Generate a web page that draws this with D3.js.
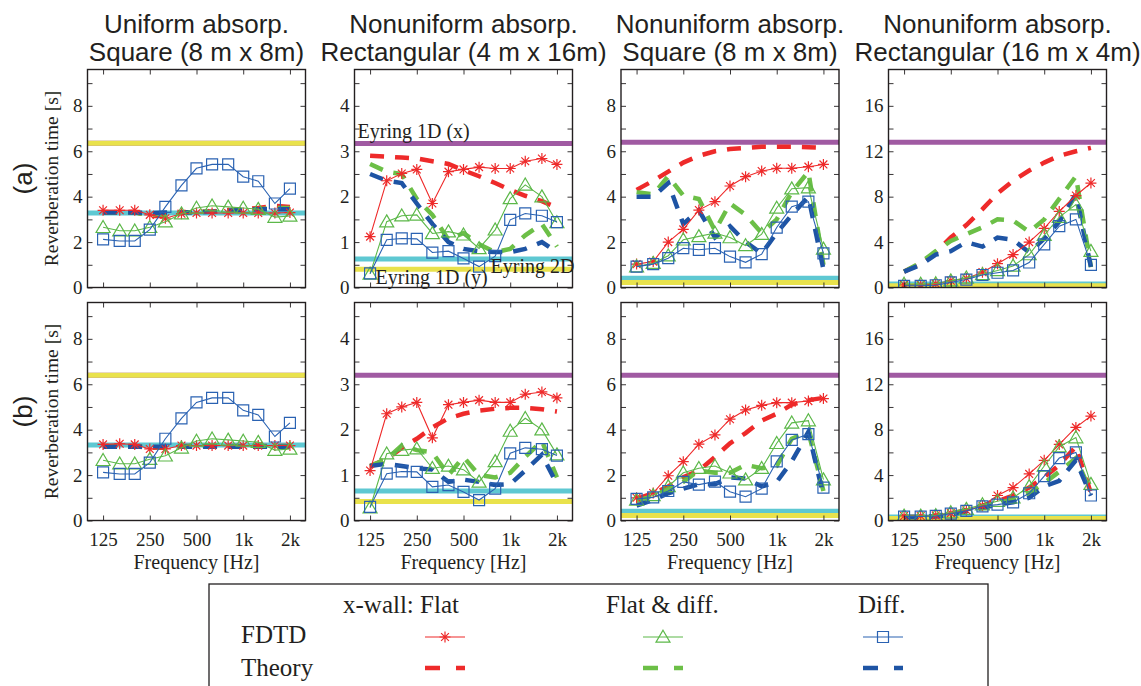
<!DOCTYPE html>
<html>
<head>
<meta charset="utf-8">
<script src="https://cdn.jsdelivr.net/npm/d3@7"></script>
<style>
body { margin: 0; background: #fff; }
text { fill: #231f20; }
</style>
</head>
<body>
<svg id="chart" width="1141" height="686"></svg>
<script>

// 1/3-octave band centres
const freqs = [125, 160, 200, 250, 315, 400, 500, 630, 800, 1000, 1250, 1600, 2000];
const tickFreqs = [125, 250, 500, 1000, 2000];
const tickLabels = ["125", "250", "500", "1k", "2k"];

const titleLine1 = ["Uniform absorp.", "Nonuniform absorp.", "Nonuniform absorp.", "Nonuniform absorp."];
const titleLine2 = ["Square (8 m x 8m)", "Rectangular (4 m x 16m)", "Square (8 m x 8m)", "Rectangular (16 m x 4m)"];
const rowLabels = ["(a)", "(b)"];

const yMax = [9.6, 4.8, 9.6, 19.2];
const yLabelStep = [2, 1, 2, 4];
const yMinorStep = [1, 0.5, 1, 2];

// Eyring reference values, one per panel
const eyringXa = [6.35, 3.17, 6.4, 12.8];
const eyring2Da = [3.28, 0.63, 0.41, 0.3];
const eyringYa = [6.35, 0.4, 0.22, 0.15];
const eyringXb = [6.4, 3.2, 6.4, 12.8];
const eyring2Db = [3.32, 0.65, 0.41, 0.3];
const eyringYb = [6.4, 0.42, 0.22, 0.18];

// FDTD: [flat, flat & diff., diff.]
const fdtdA1 = [
  [3.4, 3.4, 3.4, 3.2, 3.05, 3.25, 3.28, 3.28, 3.28, 3.28, 3.28, 3.28, 3.3],
  [2.65, 2.5, 2.5, 2.65, 2.9, 3.25, 3.5, 3.6, 3.55, 3.5, 3.45, 3.1, 3.15],
  [2.12, 2.05, 2.05, 2.55, 3.55, 4.5, 5.25, 5.42, 5.42, 4.88, 4.68, 3.7, 4.35]
];
const theoryA1 = [
  [3.32, 3.32, 3.32, 3.15, 3.15, 3.3, 3.32, 3.35, 3.4, 3.45, 3.5, 3.6, 3.55],
  [3.3, 3.3, 3.3, 3.2, 3.2, 3.3, 3.32, 3.35, 3.38, 3.42, 3.45, 3.5, 3.5],
  [3.3, 3.3, 3.3, 3.28, 3.3, 3.3, 3.32, 3.34, 3.38, 3.4, 3.45, 3.45, 3.45]
];
const fdtdA2 = [
  [1.12, 2.35, 2.51, 2.6, 1.85, 2.55, 2.6, 2.65, 2.62, 2.62, 2.78, 2.84, 2.71],
  [0.3, 1.45, 1.58, 1.6, 1.19, 1.23, 1.16, 0.86, 1.27, 1.96, 2.26, 2.0, 1.43],
  [0.31, 1.05, 1.08, 1.07, 0.77, 0.8, 0.64, 0.46, 0.69, 1.49, 1.63, 1.58, 1.44]
];
const theoryA2 = [
  [2.9, 2.88, 2.86, 2.84, 2.78, 2.72, 2.58, 2.45, 2.3, 2.15, 2.02, 1.9, 1.76],
  [2.72, 2.55, 2.5, 1.95, 1.6, 1.05, 1.2, 0.95, 0.78, 0.85, 1.15, 1.4, 0.9],
  [2.5, 2.35, 2.3, 1.85, 1.4, 1.0, 0.85, 0.8, 0.78, 0.78, 0.85, 1.0, 0.78]
];
const fdtdA3 = [
  [1.03, 1.14, 2.0, 2.56, 3.41, 3.78, 4.47, 4.88, 5.13, 5.25, 5.25, 5.32, 5.42],
  [0.92, 1.07, 1.4, 2.1, 2.25, 2.4, 2.2, 1.85, 2.35, 3.5, 4.35, 4.4, 1.7],
  [0.92, 1.03, 1.29, 1.73, 1.66, 1.73, 1.36, 1.11, 1.47, 2.64, 3.56, 3.78, 1.5]
];
const theoryA3 = [
  [4.3, 4.7, 5.1, 5.5, 5.8, 6.0, 6.1, 6.15, 6.2, 6.2, 6.2, 6.18, 6.15],
  [4.2, 4.1, 4.9, 4.05, 3.9, 2.5, 3.7, 3.2, 2.4, 3.0, 4.2, 5.1, 1.0],
  [4.0, 4.0, 4.6, 2.8, 3.4, 2.2, 2.7, 2.0, 1.5, 2.4, 3.2, 4.0, 0.8]
];
const fdtdA4 = [
  [0.23, 0.23, 0.32, 0.6, 0.8, 1.35, 2.1, 2.9, 4.0, 5.2, 6.7, 8.1, 9.2],
  [0.3, 0.3, 0.35, 0.6, 0.85, 1.15, 1.5, 1.9, 2.9, 4.6, 6.2, 7.3, 3.2],
  [0.15, 0.15, 0.2, 0.45, 0.7, 1.1, 1.3, 1.5, 2.2, 3.8, 5.4, 6.0, 2.0]
];
const theoryA4 = [
  [1.4, 2.1, 3.1, 4.4, 5.5, 6.9, 8.3, 9.4, 10.3, 11.0, 11.6, 12.0, 12.3],
  [1.4, 2.2, 3.2, 4.1, 4.7, 5.3, 6.0, 5.9, 4.9, 6.0, 7.8, 9.8, 1.8],
  [1.4, 2.0, 2.9, 3.2, 4.0, 3.6, 4.4, 4.2, 3.1, 4.3, 5.8, 8.2, 1.8]
];

const fdtdB1 = [
  [3.35, 3.38, 3.35, 3.15, 3.15, 3.3, 3.3, 3.3, 3.3, 3.3, 3.3, 3.3, 3.3],
  [2.65, 2.5, 2.5, 2.7, 2.85, 3.2, 3.5, 3.6, 3.55, 3.5, 3.45, 3.1, 3.15],
  [2.12, 2.05, 2.05, 2.55, 3.6, 4.5, 5.2, 5.4, 5.4, 4.85, 4.65, 3.7, 4.3]
];
const theoryB1 = [
  [3.28, 3.28, 3.28, 3.2, 3.2, 3.28, 3.28, 3.28, 3.28, 3.28, 3.28, 3.28, 3.28],
  [3.27, 3.27, 3.27, 3.22, 3.22, 3.27, 3.27, 3.27, 3.27, 3.27, 3.27, 3.27, 3.27],
  [3.25, 3.25, 3.25, 3.25, 3.25, 3.25, 3.25, 3.25, 3.25, 3.25, 3.25, 3.25, 3.25]
];
const fdtdB2 = [
  [1.1, 2.35, 2.5, 2.6, 1.82, 2.55, 2.6, 2.65, 2.6, 2.6, 2.78, 2.83, 2.7],
  [0.28, 1.47, 1.55, 1.58, 1.15, 1.2, 1.12, 0.85, 1.3, 1.97, 2.25, 2.0, 1.45],
  [0.3, 1.03, 1.08, 1.07, 0.74, 0.78, 0.63, 0.45, 0.7, 1.48, 1.6, 1.57, 1.43]
];
const theoryB2 = [
  [1.2, 1.35, 1.6, 1.8, 2.05, 2.25, 2.35, 2.42, 2.46, 2.48, 2.48, 2.45, 2.4],
  [1.2, 1.35, 1.65, 1.55, 1.5, 1.0, 1.4, 1.0, 0.95, 1.05, 1.4, 1.75, 0.95],
  [1.2, 1.25, 1.2, 1.15, 1.12, 0.85, 0.9, 0.85, 0.78, 0.8, 1.1, 1.45, 0.8]
];
const fdtdB3 = [
  [1.0, 1.21, 1.97, 2.59, 3.36, 3.77, 4.46, 4.87, 5.07, 5.19, 5.19, 5.26, 5.37],
  [0.9, 1.1, 1.5, 2.1, 2.3, 2.4, 2.1, 1.8, 2.3, 3.4, 4.3, 4.4, 1.8],
  [0.95, 1.02, 1.3, 1.7, 1.58, 1.71, 1.27, 1.05, 1.4, 2.6, 3.55, 3.8, 1.45]
];
const theoryB3 = [
  [0.95, 1.2, 1.5, 1.9, 2.2, 2.8, 3.4, 3.85, 4.4, 4.7, 5.1, 5.3, 5.4],
  [0.85, 1.1, 1.35, 1.7, 2.2, 2.1, 2.1, 2.45, 2.3, 2.4, 3.6, 3.9, 1.3],
  [0.65, 0.9, 1.2, 1.4, 1.6, 1.6, 1.9, 1.85, 1.5, 1.7, 2.6, 3.9, 1.1]
];
const fdtdB4 = [
  [0.4, 0.4, 0.45, 0.65, 0.9, 1.3, 2.2, 2.9, 4.1, 5.3, 6.7, 8.2, 9.2],
  [0.4, 0.4, 0.45, 0.7, 1.0, 1.4, 1.7, 2.0, 3.0, 4.8, 6.5, 7.3, 3.2],
  [0.35, 0.35, 0.4, 0.6, 0.85, 1.25, 1.4, 1.6, 2.4, 3.9, 5.5, 6.0, 2.2]
];
const theoryB4 = [
  [0.3, 0.3, 0.4, 0.6, 0.9, 1.3, 1.7, 2.2, 2.9, 3.8, 4.9, 6.5, 2.4],
  [0.3, 0.3, 0.4, 0.6, 0.9, 1.2, 1.5, 1.8, 2.4, 3.3, 4.3, 5.5, 2.5],
  [0.3, 0.3, 0.35, 0.5, 0.8, 1.1, 1.4, 1.6, 2.0, 3.0, 3.5, 5.3, 2.2]
];

const fdtdRows = [[fdtdA1, fdtdA2, fdtdA3, fdtdA4], [fdtdB1, fdtdB2, fdtdB3, fdtdB4]];
const theoryRows = [[theoryA1, theoryA2, theoryA3, theoryA4], [theoryB1, theoryB2, theoryB3, theoryB4]];
const eyringRows = [[eyringXa, eyringYa, eyring2Da], [eyringXb, eyringYb, eyring2Db]];

const fdtdColors = ["#ee2a2a", "#5cb849", "#2a62b2"];
const theoryColors = ["#ee2a2a", "#6cbf47", "#1e54a4"];
// 1D (x), 1D (y), 2D
const eyringColors = ["#a05aa2", "#e9e24c", "#5ec8d2"];
const eyringOrder = [0, 2, 1];

const serif = "'Liberation Serif', 'Times New Roman', serif";
const sans = "'Liberation Sans', Arial, sans-serif";

const panelLeft = [87.5, 354.5, 621, 888.5];
const rowTop = [69.5, 302.5];
const pw = 218, ph = 218;

const svg = d3.select("#chart");

const x = d3.scaleLog().base(2)
  .domain([125 / Math.pow(2, 1/3), 2000 * Math.pow(2, 1/3)])
  .range([0, pw]);

const markerPath = function(k) {
  if (k == 0) {
    const r = 5.5, d = 3.9;
    return "M" + -r + ",0L" + r + ",0M0," + -r + "L0," + r +
      "M" + -d + "," + -d + "L" + d + "," + d + "M" + -d + "," + d + "L" + d + "," + -d;
  } else if (k == 1) {
    return "M0,-6.8L7,5.2L-7,5.2Z";
  } else {
    return "M-5.5,-5.5H5.5V5.5H-5.5Z";
  }
};

const drawPanel = function(row, col) {
  const g = svg.append("g")
    .attr("transform", "translate(" + panelLeft[col] + "," + rowTop[row] + ")");

  const y = d3.scaleLinear().domain([0, yMax[col]]).range([ph, 0]);

  const clipId = "clip" + row + col;
  g.append("clipPath").attr("id", clipId)
    .append("rect").attr("width", pw).attr("height", ph);

  const plot = g.append("g").attr("clip-path", "url(#" + clipId + ")");

  // Eyring reference lines
  eyringOrder.forEach(function(k) {
    const v = eyringRows[row][k][col];
    plot.append("line")
      .attr("x1", 0).attr("x2", pw)
      .attr("y1", y(v)).attr("y2", y(v))
      .style("stroke", eyringColors[k])
      .style("stroke-width", 5);
  });

  const line = d3.line()
    .x((d, i) => x(freqs[i]))
    .y(d => y(d));

  // theory (dashed)
  theoryRows[row][col].forEach(function(s, k) {
    plot.append("path")
      .attr("d", line(s))
      .style("fill", "none")
      .style("stroke", theoryColors[k])
      .style("stroke-width", 4.5)
      .style("stroke-dasharray", "14,11");
  });

  // FDTD with markers
  fdtdRows[row][col].forEach(function(s, k) {
    plot.append("path")
      .attr("d", line(s))
      .style("fill", "none")
      .style("stroke", fdtdColors[k])
      .style("stroke-width", 1.1);

    plot.append("g").selectAll("path")
      .data(s)
      .enter()
      .append("path")
      .attr("transform", (d, i) => "translate(" + x(freqs[i]) + "," + y(d) + ")")
      .attr("d", markerPath(k))
      .style("fill", "none")
      .style("stroke", fdtdColors[k])
      .style("stroke-width", 1.2);
  });

  // axes, ticks pointing inward
  const yTicks = d3.range(0, yMax[col] + 1e-9, yMinorStep[col]);
  const isLabel = v => Math.abs(v / yLabelStep[col] - Math.round(v / yLabelStep[col])) < 1e-6;

  g.append("g")
    .call(d3.axisLeft(y).tickValues(yTicks).tickSize(-5).tickPadding(5)
      .tickFormat(v => isLabel(v) ? d3.format("d")(v) : ""));

  g.append("g")
    .attr("transform", "translate(" + pw + ",0)")
    .call(d3.axisRight(y).tickValues(yTicks).tickSize(-5).tickFormat(""));

  g.append("g")
    .call(d3.axisTop(x).tickValues(tickFreqs).tickSize(-5).tickFormat(""));

  g.append("g")
    .attr("transform", "translate(0," + ph + ")")
    .call(d3.axisBottom(x).tickValues(tickFreqs).tickSize(-5).tickPadding(12)
      .tickFormat((d, i) => row == 1 ? tickLabels[i] : ""));

  g.selectAll(".domain").remove();
  g.selectAll(".tick line").style("stroke", "#231f20").style("stroke-width", 0.9);
  g.selectAll(".tick text")
    .style("font-family", serif)
    .style("font-size", "19px")
    .style("fill", "#231f20");

  g.append("rect")
    .attr("width", pw).attr("height", ph)
    .style("fill", "none")
    .style("stroke", "#231f20")
    .style("stroke-width", 1.4);

  if (row == 1) {
    g.append("text")
      .attr("x", pw / 2).attr("y", ph + 48)
      .attr("text-anchor", "middle")
      .style("font-family", serif).style("font-size", "20px")
      .text("Frequency [Hz]");
  }

  if (col == 0) {
    g.append("text")
      .attr("transform", "translate(-30," + ph / 2 + ") rotate(-90)")
      .attr("text-anchor", "middle")
      .style("font-family", serif).style("font-size", "19.5px")
      .text("Reverberation time [s]");
    g.append("text")
      .attr("transform", "translate(-56," + ph / 2 + ") rotate(-90)")
      .attr("text-anchor", "middle")
      .style("font-family", sans).style("font-size", "26px")
      .text(rowLabels[row]);
  }

  if (row == 0) {
    g.append("text")
      .attr("x", pw / 2).attr("y", -37)
      .attr("text-anchor", "middle")
      .style("font-family", sans).style("font-size", "26px")
      .text(titleLine1[col]);
    g.append("text")
      .attr("x", pw / 2).attr("y", -9)
      .attr("text-anchor", "middle")
      .style("font-family", sans).style("font-size", "26px")
      .text(titleLine2[col]);
  }

  if (row == 0 && col == 1) {
    const lab = function(t, px, py) {
      g.append("text").attr("x", px).attr("y", py)
        .style("font-family", serif).style("font-size", "20px")
        .text(t);
    };
    lab("Eyring 1D (x)", 3, y(eyringXa[1]) - 6);
    lab("Eyring 1D (y)", 21, y(0) - 4);
    lab("Eyring 2D", 136, y(eyringYa[1]) + 4);
  }
};

[0, 1].forEach(r => [0, 1, 2, 3].forEach(c => drawPanel(r, c)));

// legend
const legendCols = ["x-wall: Flat", "Flat & diff.", "Diff."];
const legendRows = ["FDTD", "Theory"];

const legend = svg.append("g");
legend.append("rect")
  .attr("x", 209).attr("y", 584).attr("width", 779).attr("height", 120)
  .style("fill", "#fff").style("stroke", "#231f20").style("stroke-width", 1.3);

const legendTextX = [343, 606, 858];
const legendMarkX = [445, 663, 883];

legend.selectAll("text.col")
  .data(legendCols)
  .enter()
  .append("text")
  .attr("class", "col")
  .attr("x", (d, i) => legendTextX[i]).attr("y", 613)
  .style("font-family", serif).style("font-size", "25px")
  .text(d => d);

legend.selectAll("text.row")
  .data(legendRows)
  .enter()
  .append("text")
  .attr("class", "row")
  .attr("x", 241).attr("y", (d, i) => [643, 676][i])
  .style("font-family", serif).style("font-size", "25px")
  .text(d => d);

legendMarkX.forEach(function(cx, k) {
  legend.append("line")
    .attr("x1", cx - 20).attr("x2", cx + 20).attr("y1", 637).attr("y2", 637)
    .style("stroke", fdtdColors[k]).style("stroke-width", 1.1);
  legend.append("path")
    .attr("transform", "translate(" + cx + ",637)")
    .attr("d", markerPath(k))
    .style("fill", "none").style("stroke", fdtdColors[k]).style("stroke-width", 1.2);
  legend.append("line")
    .attr("x1", cx - 20).attr("x2", cx + 20).attr("y1", 668).attr("y2", 668)
    .style("stroke", theoryColors[k]).style("stroke-width", 4.5)
    .style("stroke-dasharray", "15,16");
});

</script>
</body>
</html>
